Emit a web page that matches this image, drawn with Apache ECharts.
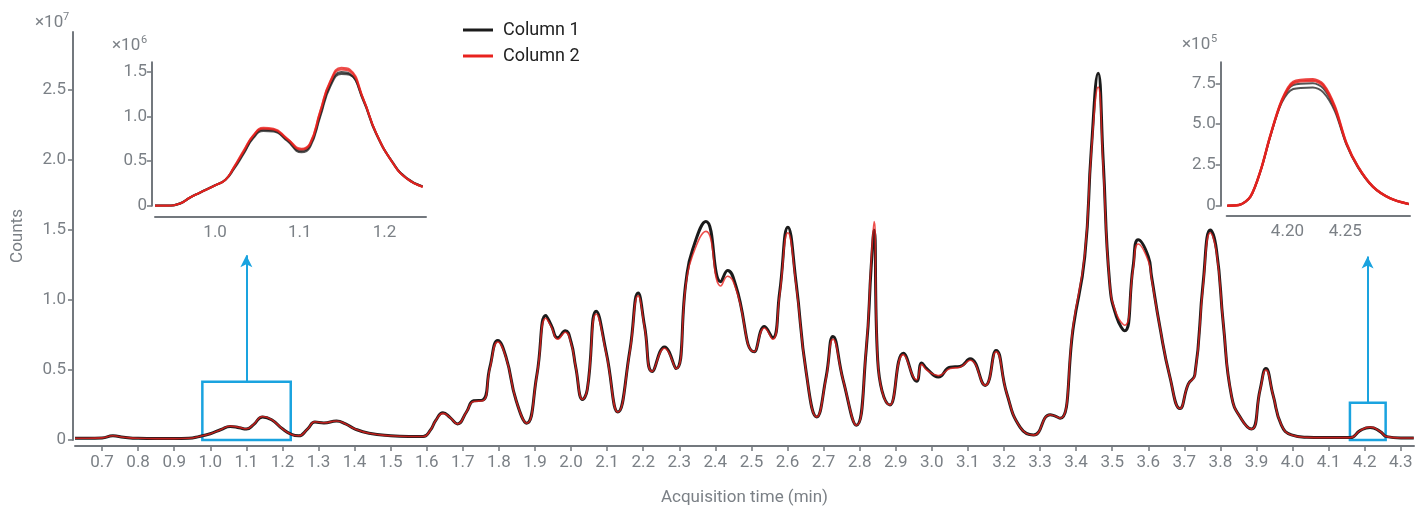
<!DOCTYPE html>
<html>
<head>
<meta charset="utf-8">
<script src="https://cdn.jsdelivr.net/npm/echarts@6/dist/echarts.min.js"></script>
<style>
  html, body { margin: 0; padding: 0; background: #fff; }
  #chart { width: 1416px; height: 506px; }
</style>
</head>
<body>
<div id="chart"></div>
<script>
// Total ion chromatogram, two columns; counts in units of 1e7
const times = [
  0.625, 0.66, 0.70, 0.73, 0.76, 0.80, 0.85, 0.90, 0.94, 0.97,
  1.00, 1.03, 1.055, 1.08, 1.10, 1.12, 1.145, 1.17, 1.20, 1.225,
  1.245, 1.27, 1.29, 1.315, 1.35, 1.375, 1.40, 1.44, 1.50, 1.55,
  1.59, 1.61, 1.625, 1.645, 1.665, 1.685, 1.71, 1.73, 1.755, 1.775,
  1.797, 1.82, 1.848, 1.877, 1.905, 1.93, 1.945, 1.963, 1.984, 2.00,
  2.013, 2.032, 2.045, 2.07, 2.098, 2.13, 2.163, 2.186, 2.204, 2.225,
  2.259, 2.291, 2.319, 2.337, 2.374, 2.415, 2.434, 2.457, 2.508, 2.536,
  2.559, 2.578, 2.601, 2.624, 2.652, 2.681, 2.707, 2.726, 2.754, 2.791,
  2.818, 2.832, 2.840, 2.850, 2.884, 2.921, 2.958, 2.972, 2.986, 3.018,
  3.051, 3.078, 3.106, 3.148, 3.178, 3.208, 3.245, 3.282, 3.328, 3.356,
  3.393, 3.424, 3.442, 3.461, 3.475, 3.493, 3.512, 3.535, 3.558, 3.572,
  3.600, 3.609, 3.632, 3.660, 3.688, 3.711, 3.729, 3.752, 3.772, 3.789,
  3.808, 3.831, 3.858, 3.886, 3.910, 3.926, 3.946, 3.969, 3.997, 4.040,
  4.080, 4.160, 4.187, 4.215, 4.243, 4.261, 4.300, 4.336
];
const column1 = [
  0.012, 0.012, 0.015, 0.03, 0.02, 0.012, 0.01, 0.01, 0.012, 0.025,
  0.045, 0.075, 0.097, 0.088, 0.078, 0.11, 0.165, 0.145, 0.08, 0.04,
  0.03, 0.08, 0.128, 0.122, 0.135, 0.115, 0.08, 0.048, 0.03, 0.025,
  0.025, 0.07, 0.14, 0.195, 0.16, 0.115, 0.2, 0.28, 0.285, 0.52,
  0.71, 0.59, 0.28, 0.12, 0.46, 0.89, 0.82, 0.73, 0.78, 0.70,
  0.52, 0.29, 0.36, 0.92, 0.62, 0.20, 0.64, 1.05, 0.81, 0.49,
  0.665, 0.51, 1.14, 1.36, 1.56, 1.13, 1.21, 1.10, 0.63, 0.81,
  0.73, 1.05, 1.52, 1.12, 0.48, 0.165, 0.45, 0.74, 0.43, 0.105,
  0.64, 1.24, 1.50, 0.57, 0.25, 0.62, 0.42, 0.55, 0.51, 0.45,
  0.52, 0.525, 0.58, 0.39, 0.64, 0.33, 0.09, 0.035, 0.18, 0.155,
  0.82, 1.31, 2.07, 2.62, 2.0, 1.12, 0.88, 0.78, 1.24, 1.43,
  1.31, 1.17, 0.81, 0.45, 0.225, 0.40, 0.465, 1.12, 1.50, 1.36,
  0.83, 0.31, 0.15, 0.078, 0.36, 0.51, 0.32, 0.107, 0.036, 0.019,
  0.017, 0.017, 0.067, 0.09, 0.06, 0.024, 0.014, 0.014
];
const column2 = [
  0.012, 0.012, 0.015, 0.03, 0.02, 0.012, 0.01, 0.01, 0.012, 0.025,
  0.045, 0.075, 0.099, 0.09, 0.08, 0.112, 0.168, 0.146, 0.08, 0.04,
  0.03, 0.08, 0.13, 0.123, 0.136, 0.115, 0.08, 0.048, 0.03, 0.025,
  0.025, 0.07, 0.14, 0.19, 0.16, 0.115, 0.2, 0.275, 0.28, 0.51,
  0.70, 0.585, 0.28, 0.12, 0.455, 0.87, 0.81, 0.72, 0.77, 0.69,
  0.52, 0.29, 0.36, 0.90, 0.61, 0.20, 0.63, 1.03, 0.80, 0.49,
  0.655, 0.51, 1.12, 1.32, 1.49, 1.10, 1.17, 1.08, 0.63, 0.80,
  0.72, 1.03, 1.48, 1.10, 0.48, 0.165, 0.44, 0.72, 0.43, 0.105,
  0.65, 1.28, 1.56, 0.57, 0.25, 0.61, 0.43, 0.54, 0.50, 0.46,
  0.51, 0.52, 0.57, 0.39, 0.63, 0.33, 0.09, 0.035, 0.18, 0.155,
  0.84, 1.33, 2.05, 2.52, 1.95, 1.12, 0.90, 0.82, 1.22, 1.40,
  1.28, 1.15, 0.81, 0.45, 0.225, 0.40, 0.46, 1.10, 1.48, 1.34,
  0.83, 0.31, 0.15, 0.078, 0.355, 0.50, 0.32, 0.107, 0.036, 0.019,
  0.017, 0.017, 0.067, 0.092, 0.061, 0.024, 0.014, 0.014
];

// Zoomed peak near 1.1 min, counts in units of 1e6 (two runs per column)
const insetATimes = [0.929, 0.943, 0.959, 0.970, 0.982, 1.000, 1.012, 1.022, 1.034, 1.045,
  1.057, 1.069, 1.085, 1.102, 1.112, 1.124, 1.136, 1.149, 1.159, 1.175, 1.190, 1.210, 1.226, 1.245];
const insetAColumn1RunA = [0, 0, 0.026, 0.09, 0.146, 0.229, 0.289, 0.41, 0.59, 0.76,
  0.84, 0.835, 0.73, 0.60, 0.66, 1.00, 1.34, 1.48, 1.47, 1.18, 0.81, 0.48, 0.31, 0.215];
const insetAColumn1RunB = [0, 0, 0.026, 0.09, 0.146, 0.229, 0.292, 0.42, 0.60, 0.77,
  0.855, 0.845, 0.74, 0.615, 0.675, 1.02, 1.36, 1.50, 1.48, 1.19, 0.815, 0.48, 0.31, 0.215];
const insetAColumn2RunA = [0, 0, 0.026, 0.09, 0.146, 0.229, 0.29, 0.43, 0.625, 0.79,
  0.875, 0.865, 0.755, 0.64, 0.70, 1.06, 1.40, 1.55, 1.53, 1.20, 0.82, 0.477, 0.305, 0.21];
const insetAColumn2RunB = [0, 0, 0.026, 0.09, 0.146, 0.229, 0.289, 0.425, 0.615, 0.785,
  0.865, 0.855, 0.75, 0.63, 0.69, 1.05, 1.39, 1.53, 1.51, 1.195, 0.815, 0.477, 0.308, 0.212];

// Zoomed peak near 4.2 min, counts in units of 1e5
const insetBTimes = [4.148, 4.158, 4.168, 4.177, 4.185, 4.195, 4.205, 4.222, 4.231, 4.241,
  4.251, 4.261, 4.274, 4.289, 4.305];
const insetBColumn1RunA = [0, 0.04, 0.55, 2.18, 4.20, 6.30, 7.15, 7.25, 6.95, 5.80, 3.75, 2.35, 1.15, 0.45, 0.10];
const insetBColumn1RunB = [0, 0.04, 0.55, 2.18, 4.22, 6.40, 7.40, 7.50, 7.20, 5.95, 3.80, 2.38, 1.16, 0.45, 0.10];
const insetBColumn2RunA = [0, 0.04, 0.55, 2.20, 4.25, 6.45, 7.60, 7.75, 7.45, 6.10, 3.85, 2.40, 1.17, 0.45, 0.10];
const insetBColumn2RunB = [0, 0.04, 0.55, 2.19, 4.23, 6.40, 7.50, 7.65, 7.35, 6.00, 3.82, 2.39, 1.16, 0.45, 0.10];

// Tick labels
const mainXTicks = ['0.7','0.8','0.9','1.0','1.1','1.2','1.3','1.4','1.5','1.6','1.7','1.8','1.9',
  '2.0','2.1','2.2','2.3','2.4','2.5','2.6','2.7','2.8','2.9','3.0','3.1','3.2','3.3','3.4','3.5',
  '3.6','3.7','3.8','3.9','4.0','4.1','4.2','4.3'];
const mainYTicks = ['0', '0.5', '1.0', '1.5', '2.0', '2.5'];
const insetAXTicks = ['1.0', '1.1', '1.2'];
const insetAYTicks = ['0', '0.5', '1.0', '1.5'];
const insetBXTicks = ['4.20', '4.25'];
const insetBYTicks = ['0', '2.5', '5.0', '7.5'];

// Highlighted regions: [t0, t1, top] and arrow [t, tipValue]
const zoomBoxes = [[0.978, 1.223, 0.416], [4.159, 4.258, 0.266]];
const zoomArrows = [[1.10, 1.32], [4.208, 1.31]];

const BLACK = '#1b1b1b';
const RED = '#e8221e';
const BLUE = '#1aa3df';
const AXIS = '#73787e';
const LABEL = '#7b8086';
const FONT = 'Roboto';

const pairs = (xs, ys) => xs.map((x, i) => [x, ys[i]]);
const fmtLabel = (list) => (v) => {
  const s = list.find(l => Math.abs(Number(l) - v) < 1e-6);
  return s === undefined ? '' : s;
};

function axisX(gridIndex, min, max, ticks, offset, showTick) {
  return {
    type: 'value', gridIndex, min, max, offset,
    axisLine: { show: true, onZero: false, lineStyle: { color: AXIS, width: 2 } },
    axisTick: { show: showTick, length: 5, customValues: ticks.map(Number), lineStyle: { color: AXIS, width: 1.5 } },
    axisLabel: { customValues: ticks.map(Number), formatter: fmtLabel(ticks), color: LABEL,
      fontFamily: FONT, fontSize: 17, margin: 8 },
    splitLine: { show: false }
  };
}
function axisY(gridIndex, min, max, ticks, offset, margin) {
  return {
    type: 'value', gridIndex, min, max, offset,
    axisLine: { show: true, onZero: false, lineStyle: { color: AXIS, width: 2 } },
    axisTick: { show: true, length: 5, customValues: ticks.map(Number), lineStyle: { color: AXIS, width: 1.5 } },
    axisLabel: { customValues: ticks.map(Number), formatter: fmtLabel(ticks), color: LABEL,
      fontFamily: FONT, fontSize: 17, margin },
    splitLine: { show: false }
  };
}

function line(name, color, xi, data, width, opacity, extra) {
  return Object.assign({
    name, type: 'line', xAxisIndex: xi, yAxisIndex: xi, data,
    color, showSymbol: false, symbol: 'none', smooth: 0.5,
    lineStyle: { color, width, opacity }, silent: true, animation: false
  }, extra || {});
}

const boxStyle = { color: 'rgba(0,0,0,0)', borderColor: BLUE, borderWidth: 2.5 };

const chart = echarts.init(document.getElementById('chart'), null, { renderer: 'canvas' });
chart.setOption({
  animation: false,
  backgroundColor: '#ffffff',
  textStyle: { fontFamily: FONT },
  legend: {
    data: ['Column 1', 'Column 2'],
    orient: 'vertical', left: 463, top: 21, itemGap: 8, padding: 0,
    icon: 'rect', itemWidth: 30, itemHeight: 3,
    textStyle: { color: '#222222', fontSize: 18, fontFamily: FONT, padding: [0, 0, 0, 5] },
    selectedMode: false
  },
  grid: [
    { left: 75, right: 2, top: 32, bottom: 66, outerBoundsMode: 'none', containLabel: false },
    { left: 155, top: 62.3, width: 271, height: 143.4, outerBoundsMode: 'none', containLabel: false },
    { left: 1226.7, top: 62.3, width: 183.3, height: 143.4, outerBoundsMode: 'none', containLabel: false }
  ],
  xAxis: [
    Object.assign(axisX(0, 0.625, 4.3366, mainXTicks, 6, true),
      { name: 'Acquisition time (min)', nameLocation: 'middle', nameGap: 43,
        nameTextStyle: { color: LABEL, fontSize: 17, fontFamily: FONT } }),
    axisX(1, 0.929, 1.249, insetAXTicks, 11, false),
    axisX(2, 4.1475, 4.306, insetBXTicks, 10, false)
  ],
  yAxis: [
    Object.assign(axisY(0, 0, 2.914, mainYTicks, 2, 7),
      { name: 'Counts', nameLocation: 'middle', nameGap: 47,
        nameTextStyle: { color: LABEL, fontSize: 17, fontFamily: FONT } }),
    axisY(1, 0, 1.61, insetAYTicks, 3, 5),
    axisY(2, 0, 8.79, insetBYTicks, 6, 5)
  ],
  series: [
    line('Column 1', BLACK, 0, pairs(times, column1), 3, 1),
    line('Column 2', RED, 0, pairs(times, column2), 1.6, 0.8, {
      markArea: {
        silent: true,
        itemStyle: boxStyle,
        data: zoomBoxes.map(b => [{ coord: [b[0], 0] }, { coord: [b[1], b[2]] }])
      },
      markLine: {
        silent: true, symbol: ['none', 'arrow'], symbolSize: [9, 12],
        lineStyle: { color: BLUE, width: 2, type: 'solid' },
        label: { show: false },
        data: zoomArrows.map((a, i) => [{ coord: [a[0], zoomBoxes[i][2]] }, { coord: [a[0], a[1]] }])
      }
    }),
    line('Column 1', BLACK, 1, pairs(insetATimes, insetAColumn1RunA), 2.2, 0.75),
    line('Column 1', BLACK, 1, pairs(insetATimes, insetAColumn1RunB), 2.2, 0.75),
    line('Column 2', RED, 1, pairs(insetATimes, insetAColumn2RunA), 2, 0.8),
    line('Column 2', RED, 1, pairs(insetATimes, insetAColumn2RunB), 2, 0.8),
    line('Column 1', BLACK, 2, pairs(insetBTimes, insetBColumn1RunA), 2, 0.75, { smooth: 0.3 }),
    line('Column 1', BLACK, 2, pairs(insetBTimes, insetBColumn1RunB), 2, 0.75, { smooth: 0.3 }),
    line('Column 2', RED, 2, pairs(insetBTimes, insetBColumn2RunA), 2.4, 0.85, { smooth: 0.3 }),
    line('Column 2', RED, 2, pairs(insetBTimes, insetBColumn2RunB), 2.4, 0.85, { smooth: 0.3 })
  ],
  graphic: [
    { type: 'text', x: 35, y: 23, style: { text: '×10', fill: LABEL, font: '17px Roboto', verticalAlign: 'middle' } },
    { type: 'text', x: 63, y: 17, style: { text: '7', fill: LABEL, font: '11px Roboto', verticalAlign: 'middle' } },
    { type: 'text', x: 112, y: 46, style: { text: '×10', fill: LABEL, font: '17px Roboto', verticalAlign: 'middle' } },
    { type: 'text', x: 141, y: 40, style: { text: '6', fill: LABEL, font: '11px Roboto', verticalAlign: 'middle' } },
    { type: 'text', x: 1182, y: 45, style: { text: '×10', fill: LABEL, font: '17px Roboto', verticalAlign: 'middle' } },
    { type: 'text', x: 1211, y: 39, style: { text: '5', fill: LABEL, font: '11px Roboto', verticalAlign: 'middle' } }
  ]
});
</script>
</body>
</html>
